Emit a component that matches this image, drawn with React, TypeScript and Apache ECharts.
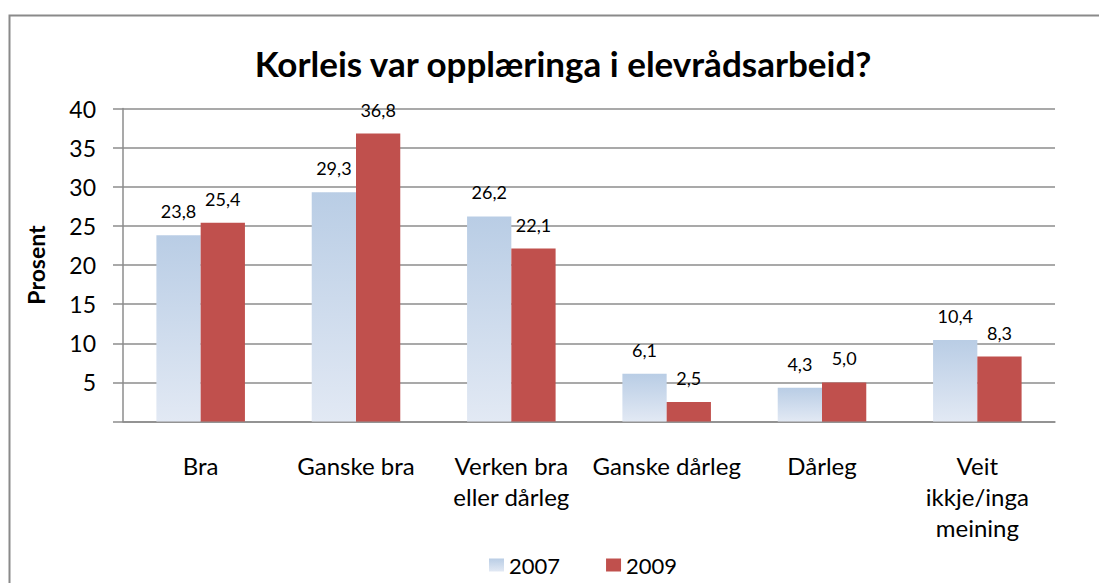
import React, { useEffect, useRef } from "react";
import * as echarts from "echarts";

const categories = ["Bra", "Ganske bra", "Verken bra\neller dårleg", "Ganske dårleg", "Dårleg", "Veit\nikkje/inga\nmeining"];
const values2007 = [23.8, 29.3, 26.2, 6.1, 4.3, 10.4];
const values2009 = [25.4, 36.8, 22.1, 2.5, 5.0, 8.3];
const seriesNames = ["2007", "2009"];
const titleText = "Korleis var opplæringa i elevrådsarbeid?";
const yAxisName = "Prosent";

const FONT = "Lato";

export default function App() {
  const ref = useRef<HTMLDivElement>(null);
  useEffect(() => {
    if (!ref.current) return;
    const chart = echarts.init(ref.current, undefined, { renderer: "svg" });
    const label = {
      show: true,
      position: "top",
      distance: 15,
      color: "#000",
      fontFamily: FONT,
      fontSize: 18,
      formatter: (p: any) => Number(p.value).toFixed(1).replace(".", ","),
    };
    chart.setOption({
      animation: false,
      backgroundColor: "#fff",
      textStyle: { fontFamily: FONT },
      title: {
        text: titleText,
        left: 558,
        textAlign: "center",
        top: 40,
        textStyle: { fontFamily: FONT, fontWeight: "bold", fontSize: 35, color: "#000" },
      },
      graphic: [
        {
          type: "rect",
          shape: { x: 9.5, y: 15.5, width: 1200, height: 700 },
          style: { fill: "none", stroke: "#8a8a8a", lineWidth: 2 },
          silent: true,
        },
      ],
      legend: {
        left: 484,
        top: 549,
        itemWidth: 15,
        itemHeight: 13,
        itemGap: 46,
        icon: "rect",
        textStyle: { fontFamily: FONT, fontSize: 22, color: "#000" },
        data: seriesNames,
      },
      grid: { left: 123, right: 44, top: 108.5, bottom: 161.5, containLabel: false },
      xAxis: {
        type: "category",
        data: categories,
        axisLine: { show: true, lineStyle: { color: "#8c8c8c", width: 1.5 } },
        axisTick: { show: false },
        axisLabel: {
          interval: 0,
          margin: 28,
          fontFamily: FONT,
          fontSize: 24,
          lineHeight: 31,
          color: "#000",
          verticalAlign: "top",
        },
      },
      yAxis: {
        type: "value",
        min: 0,
        max: 40,
        interval: 5,
        name: yAxisName,
        nameLocation: "middle",
        nameGap: 76,
        nameRotate: 90,
        nameTextStyle: { fontFamily: FONT, fontWeight: "bold", fontSize: 23, color: "#000" },
        axisLine: { show: true, lineStyle: { color: "#8c8c8c", width: 1.5 } },
        axisTick: { show: true, length: 10, lineStyle: { color: "#8c8c8c", width: 1.5 } },
        splitLine: { show: true, lineStyle: { color: "#8c8c8c", width: 1.5 } },
        axisLabel: {
          margin: 27,
          fontFamily: FONT,
          fontSize: 23,
          color: "#000",
          formatter: (v: number) => (v === 0 ? "" : String(v)),
        },
      },
      series: [
        {
          name: seriesNames[0],
          type: "bar",
          data: values2007,
          barGap: "0%",
          barCategoryGap: "43%",
          itemStyle: {
            color: new echarts.graphic.LinearGradient(0, 0, 0, 1, [
              { offset: 0, color: "#b9cde5" },
              { offset: 1, color: "#e2e9f4" },
            ]),
          },
          label,
        },
        {
          name: seriesNames[1],
          type: "bar",
          data: values2009,
          barGap: "0%",
          barCategoryGap: "43%",
          itemStyle: { color: "#c0504d" },
          label,
        },
      ],
    });
    return () => chart.dispose();
  }, []);
  return (
    <div
      ref={ref}
      style={{ position: "fixed", left: 0, top: 0, width: 1099, height: 583 }}
    />
  );
}
